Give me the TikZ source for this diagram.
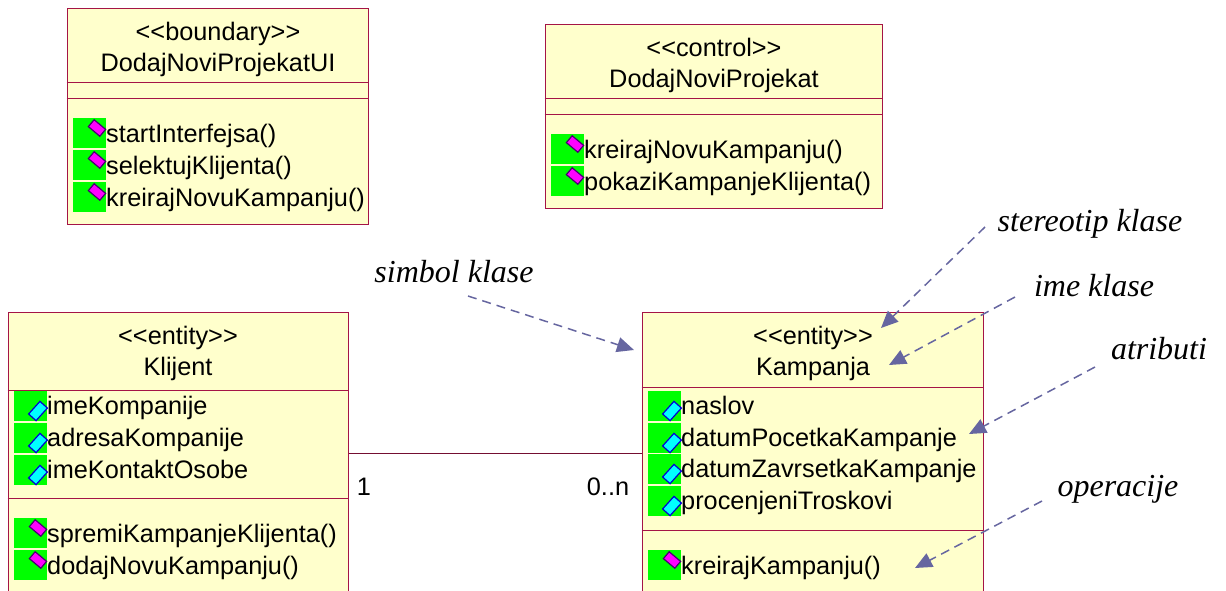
\documentclass[tikz,border=0pt]{standalone}
\usepackage{fontspec}
\setmainfont{Liberation Sans}
\newfontfamily\notefont{Liberation Serif}
\usetikzlibrary{arrows.meta}
\definecolor{boxline}{RGB}{165,20,70}
\definecolor{boxfill}{RGB}{255,255,204}
\definecolor{noteline}{RGB}{102,102,160}
\definecolor{icongreen}{RGB}{0,255,0}
\definecolor{opfill}{RGB}{255,0,255}
\definecolor{opdraw}{RGB}{70,0,110}
\definecolor{attrfill}{RGB}{0,255,255}
\definecolor{attrdraw}{RGB}{0,0,210}
\tikzset{
  classbox/.style={draw=boxline, fill=boxfill, line width=1pt, inner sep=0pt},
  classtext/.style={inner sep=0pt, anchor=base, font=\fontsize{25.3}{25.3}\selectfont},
  membertext/.style={inner sep=0pt, anchor=base west, font=\fontsize{25.3}{25.3}\selectfont},
  greenbox/.style={fill=icongreen, inner sep=0pt, minimum width=33pt, minimum height=30pt},
  opgem/.style={draw=opdraw, fill=opfill, line width=1.2pt, inner sep=0pt, minimum width=15pt, minimum height=9pt, rotate=-40},
  attrgem/.style={draw=attrdraw, fill=attrfill, line width=1.2pt, inner sep=0pt, minimum width=17pt, minimum height=10pt, rotate=48},
  notetext/.style={inner sep=0pt, anchor=base, font=\notefont\itshape\fontsize{32}{32}\selectfont},
  notearrow/.style={draw=noteline, line width=1.5pt, dash pattern=on 9pt off 6pt, -{Triangle[length=17pt,width=15pt,fill=noteline]}}
}
\begin{document}
\begin{tikzpicture}[x=1pt,y=-1pt]
\useasboundingbox (0,0) rectangle (1226,590);
\clip (0,0) rectangle (1226,590);

% class boxes
\node[classbox, minimum width=301pt, minimum height=216pt] (boundary) at (217.5,116) {};
\node[classbox, minimum width=337pt, minimum height=184pt] (control) at (713.5,116) {};
\node[classbox, minimum width=340pt, minimum height=282pt] (klijent) at (178,453) {};
\node[classbox, minimum width=341pt, minimum height=282pt] (kampanja) at (812.5,453) {};

% compartments
\foreach \name/\ya/\yb in {boundary/82/98, control/98/114, klijent/390/498, kampanja/387/530}{
   \draw[boxline, line width=1pt] (\name.west |- 0,\ya) -- (\name.east |- 0,\ya);
   \draw[boxline, line width=1pt] (\name.west |- 0,\yb) -- (\name.east |- 0,\yb);
   }

% class names
\node[classtext] (boundarystereo) at (218,40) {<{}<boundary>{}>};
\node[classtext] (boundaryname) at (218,71) {DodajNoviProjekatUI};
\node[classtext] (controlstereo) at (714,56) {<{}<control>{}>};
\node[classtext] (controlname) at (714,87) {DodajNoviProjekat};
\node[classtext] (klijentstereo) at (178,344) {<{}<entity>{}>};
\node[classtext] (klijentname) at (178,375) {Klijent};
\node[classtext] (kampanjastereo) at (813,344) {<{}<entity>{}>};
\node[classtext] (kampanjaname) at (813,375) {Kampanja};

% operations
\foreach \x/\y/\txt [count=\i] in {73/118/startInterfejsa(), 73/150/selektujKlijenta(), 73/182/kreirajNovuKampanju(),
   551/134/kreirajNovuKampanju(), 551/166/pokaziKampanjeKlijenta(),
   14/518/spremiKampanjeKlijenta(), 14/550/dodajNovuKampanju(),
   648/550/kreirajKampanju()}{
   \node[greenbox, anchor=north west] (opbox\i) at (\x,\y) {};
   \node[opgem] (opgem\i) at (\x+24,\y+10) {};
   \node[membertext] (optext\i) at (\x+33,\y+24) {\txt};
   }

% attributes
\foreach \x/\y/\txt [count=\i] in {14/391/imeKompanije, 14/423/adresaKompanije, 14/455/imeKontaktOsobe,
   648/391/naslov, 648/423/datumPocetkaKampanje, 648/454/datumZavrsetkaKampanje, 648/486/procenjeniTroskovi}{
   \node[greenbox, anchor=north west] (atbox\i) at (\x,\y) {};
   \node[attrgem] (atgem\i) at (\x+24,\y+20) {};
   \node[membertext] (attext\i) at (\x+33,\y+23) {\txt};
   }

% association
\draw[boxline!70!black, line width=0.8pt] (klijent) -- (kampanja);
\node[classtext] (onelabel) at (364,495) {1};
\node[classtext] (manylabel) at (608,495) {0..n};

% notes
\node[notetext] (simbol) at (454,282) {simbol klase};
\node[notetext] (stereotip) at (1090,231) {stereotip klase};
\node[notetext] (ime) at (1094,296) {ime klase};
\node[notetext] (atributi) at (1159,359) {atributi};
\node[notetext] (operacije) at (1118,496) {operacije};

\coordinate (simbolstart) at (468,296);
\coordinate (simbolend) at (634,350);
\coordinate (stereotipstart) at (985,227);
\coordinate (stereotipend) at (881,328);
\coordinate (imestart) at (1015,297);
\coordinate (imeend) at (889,365);
\coordinate (atributistart) at (1095,367);
\coordinate (atributiend) at (969,434);
\coordinate (operacijestart) at (1042,501);
\coordinate (operacijeend) at (915,568);

\draw[notearrow] (simbolstart) -- (simbolend);
\draw[notearrow] (stereotipstart) -- (stereotipend);
\draw[notearrow] (imestart) -- (imeend);
\draw[notearrow] (atributistart) -- (atributiend);
\draw[notearrow] (operacijestart) -- (operacijeend);
\end{tikzpicture}
\end{document}
